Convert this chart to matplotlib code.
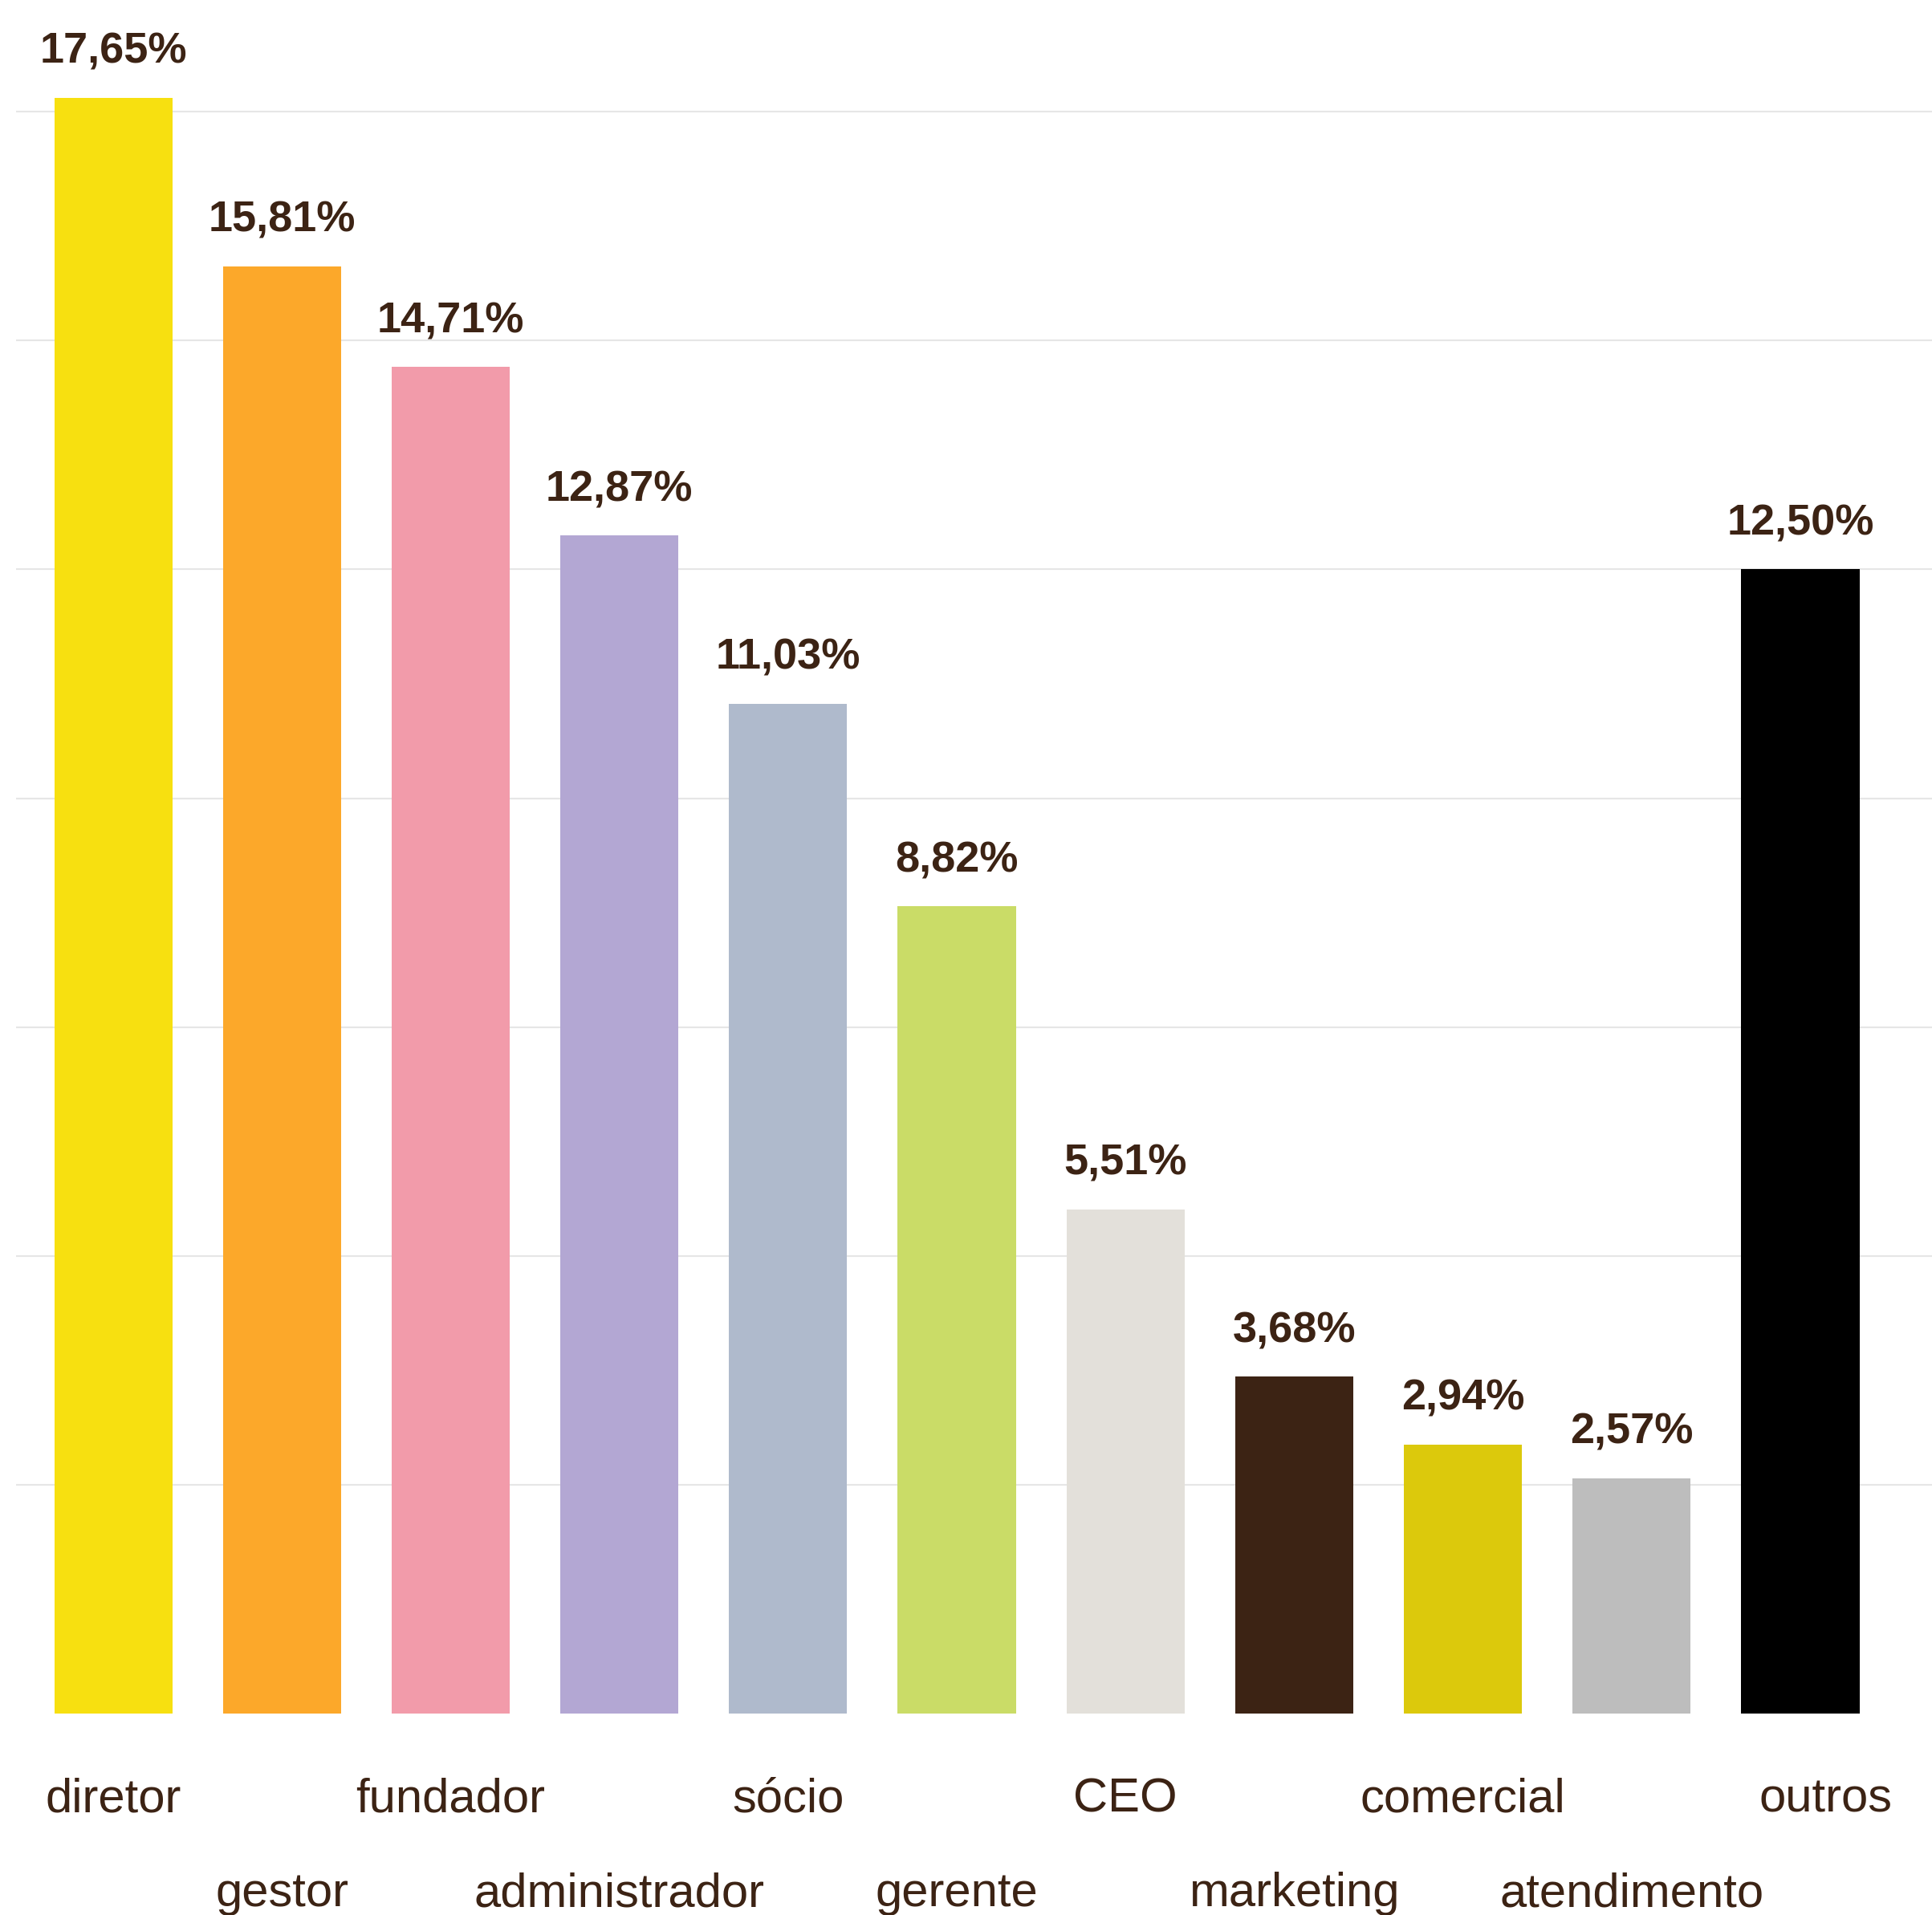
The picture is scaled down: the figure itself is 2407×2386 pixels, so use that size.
import matplotlib
matplotlib.use('Agg')
import matplotlib.pyplot as plt
import numpy as np

categories = ['diretor', 'gestor', 'fundador', 'administrador', 'sócio', 'gerente',
              'CEO', 'marketing', 'comercial', 'atendimento', 'outros']
values = [17.65, 15.81, 14.71, 12.87, 11.03, 8.82, 5.51, 3.68, 2.94, 2.57, 12.50]
colors = ['#F7E010', '#FCA82A', '#F29BAA', '#B3A7D3', '#AFBACC', '#CADC67',
          '#E3E0DA', '#3C2314', '#DCC90C', '#BDBDBD', '#000000']
grid_ticks = [2.5, 5, 7.5, 10, 12.5, 15, 17.5]

text_color = '#3C2314'
plt.rcParams['font.family'] = ['Liberation Sans', 'DejaVu Sans']

W, H = 2407, 2386
fig = plt.figure(figsize=(W / 100, H / 100), dpi=100)
bottom = (H - 2135) / H
ax = fig.add_axes([20 / W, bottom, 1 - 20 / W, 1 - bottom])

x = np.arange(len(categories))
ax.bar(x, values, width=0.70, color=colors, zorder=3)

for yv in grid_ticks:
    ax.axhline(yv, color='#E6E6E6', lw=1.5, zorder=1)

ax.set_xlim(-0.576, 10.78)
ax.set_ylim(0, 2135 / 114.05)

for i, v in enumerate(values):
    label = '{:.2f}%'.format(v).replace('.', ',')
    ax.annotate(label, (x[i], v), xytext=(0, 31), textcoords='offset points',
                ha='center', va='baseline', fontsize=39, fontweight='bold',
                color=text_color, zorder=4)

# category names alternate on two rows; the last one sits a bit to the right
for i, name in enumerate(categories):
    yoff = -123 if i % 2 == 0 else -240
    xoff = 23 if i == len(categories) - 1 else 0
    ax.annotate(name, (x[i], 0), xytext=(xoff, yoff * 0.72),
                textcoords='offset points', ha='center', va='baseline',
                fontsize=43, color=text_color, annotation_clip=False)

ax.axis('off')
fig.savefig('out.png', dpi=100)
